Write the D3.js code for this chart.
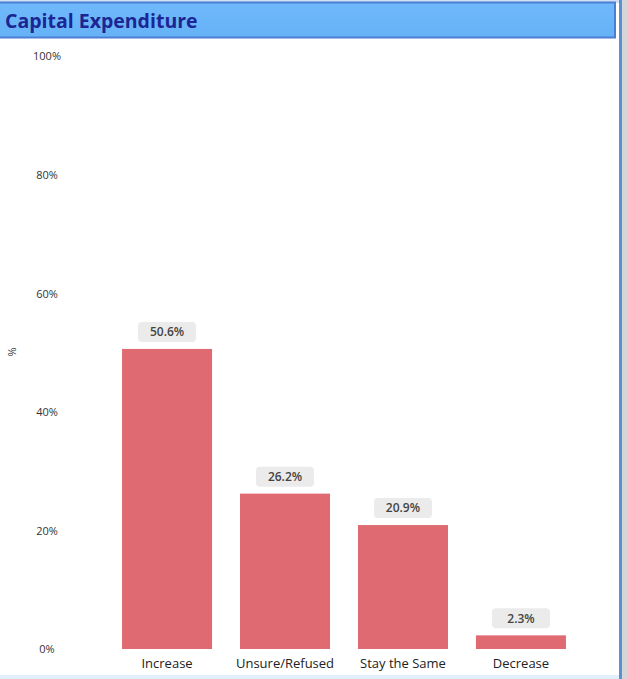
<!DOCTYPE html>
<html><head><meta charset="utf-8">
<script src="https://cdn.jsdelivr.net/npm/d3@7"></script>
<style>body{margin:0;background:#fff;overflow:hidden}svg{display:block}</style>
</head><body><svg id="c" width="628" height="679"></svg>
<script>
const categories = ["Increase", "Unsure/Refused", "Stay the Same", "Decrease"];
const values = [50.6, 26.2, 20.9, 2.3];
const tickValues = [0, 20, 40, 60, 80, 100];
const title = "Capital Expenditure";

const svg = d3.select("#c");
const W = 628, H = 679;

const defs = svg.append("defs");
const g1 = defs.append("linearGradient").attr("id","tb").attr("x1",0).attr("x2",0).attr("y1",0).attr("y2",1);
g1.append("stop").attr("offset","0").attr("stop-color","#6fb8fb");
g1.append("stop").attr("offset","1").attr("stop-color","#66b2f7");

svg.append("rect").attr("x",0).attr("y",0).attr("width",W).attr("height",H).attr("fill","#fff");
svg.append("rect").attr("x",621).attr("y",0).attr("width",7).attr("height",H).attr("fill","#d6d6d6");
svg.append("rect").attr("x",619).attr("y",0).attr("width",3).attr("height",H).attr("fill","#5b8fd6");
svg.append("rect").attr("x",0).attr("y",675).attr("width",619).attr("height",4).attr("fill","#e3effb");
svg.append("rect").attr("x",0).attr("y",0).attr("width",619).attr("height",3).attr("fill","#cfe0f4");
svg.append("rect").attr("x",-2).attr("y",2.5).attr("width",617).attr("height",35)
  .attr("fill","url(#tb)").attr("stroke","#4a7fd4").attr("stroke-width",2);
svg.append("text").attr("x",5).attr("y",28).text(title)
  .attr("font-family","'Open Sans', sans-serif").attr("font-weight",700)
  .attr("font-size",19.5).attr("fill","#1c2594");

const x = d3.scaleBand().domain(categories).range([108, 580]).paddingInner(0.237).paddingOuter(0.119);
const y = d3.scaleLinear().domain([0, 100]).range([649, 56]);

const yAxis = d3.axisLeft(y).tickValues(tickValues).tickFormat(d => d + "%").tickSize(0);
const ya = svg.append("g").attr("transform","translate(47,0)").call(yAxis);
ya.select(".domain").remove();
ya.selectAll("text").attr("font-family","'Open Sans', sans-serif").attr("font-size",11)
  .attr("fill","#333").attr("text-anchor","middle").attr("x",0).attr("dy","0.35em");

svg.append("text").attr("transform","translate(12,352) rotate(-90)").attr("text-anchor","middle")
  .attr("dy","0.35em").text("%").attr("font-family","'Open Sans', sans-serif").attr("font-size",11).attr("fill","#333");

const xAxis = d3.axisBottom(x).tickSize(0);
const xa = svg.append("g").attr("transform","translate(0,649)").call(xAxis);
xa.select(".domain").remove();
xa.selectAll("text").attr("font-family","'Open Sans', sans-serif").attr("font-size",13)
  .attr("fill","#222").attr("dy","1.2em");

svg.selectAll("rect.bar").data(values).join("rect").attr("class","bar")
  .attr("x",(d,i)=>x(categories[i])).attr("width",x.bandwidth())
  .attr("y",d=>y(d)).attr("height",d=>y(0)-y(d)).attr("fill","#e06a72");

const lab = svg.selectAll("g.lab").data(values).join("g").attr("class","lab")
  .attr("transform",(d,i)=>`translate(${x(categories[i]) + x.bandwidth()/2},${y(d) - 17})`);
lab.append("rect").attr("x",-29).attr("y",-10).attr("width",58).attr("height",20).attr("rx",4)
  .attr("fill","#ebebeb");
lab.append("text").attr("text-anchor","middle").attr("dy","0.35em").text(d => d.toFixed(1) + "%")
  .attr("font-family","'Open Sans', sans-serif").attr("font-size",12).attr("font-weight",600).attr("fill","#444");
</script></body></html>
